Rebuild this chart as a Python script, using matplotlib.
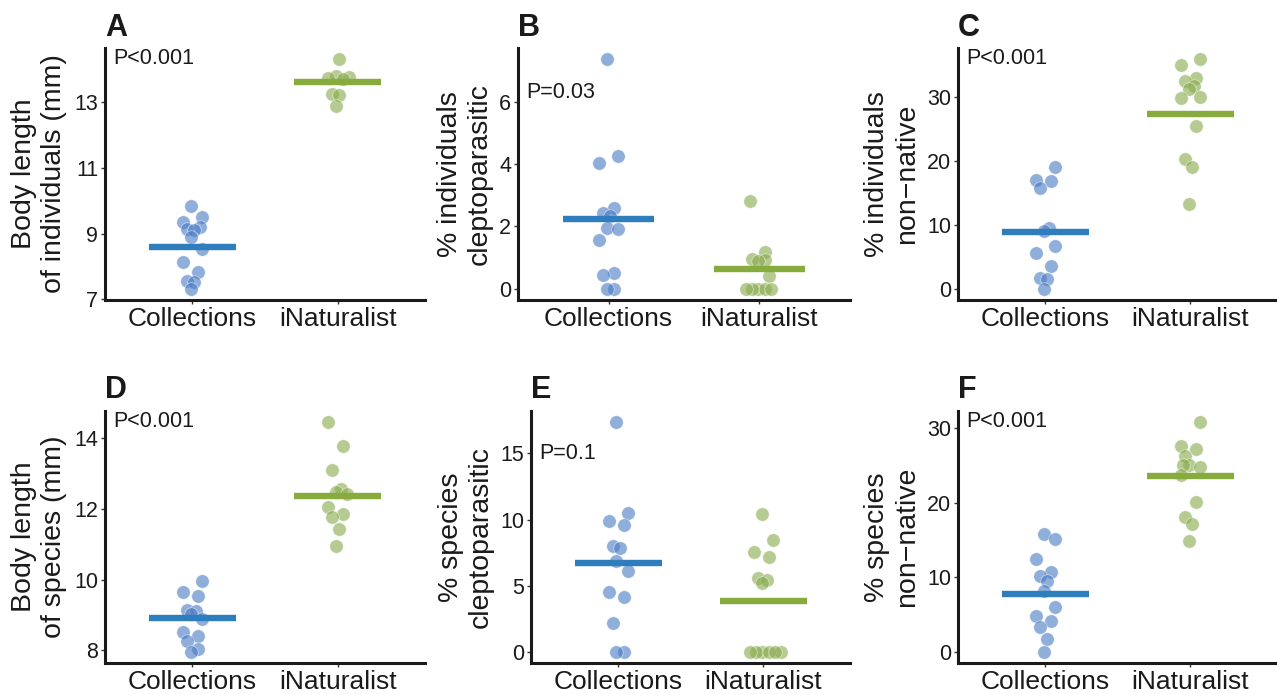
import numpy as np
import matplotlib
matplotlib.use("Agg")
import matplotlib.pyplot as plt

plt.rcParams['font.family'] = ['Liberation Sans', 'DejaVu Sans']

groups = ["Collections", "iNaturalist"]

# values, one list per panel and group
a_coll = [9.83, 9.50, 9.37, 9.20, 9.13, 9.10, 8.89, 8.52, 8.13, 7.82, 7.55, 7.52, 7.33]
a_inat = [14.31, 13.82, 13.78, 13.75, 13.70, 13.25, 13.22, 12.88]
b_coll = [7.37, 4.28, 4.04, 2.59, 2.43, 2.32, 1.95, 1.92, 1.55, 0.50, 0.44, 0.0, 0.0]
b_inat = [2.81, 1.19, 0.95, 0.92, 0.88, 0.41, 0.0, 0.0, 0.0, 0.0, 0.0]
c_coll = [19.1, 17.0, 16.8, 15.7, 9.5, 9.0, 6.6, 5.6, 3.5, 1.7, 1.5, 0.0]
c_inat = [35.9, 35.1, 33.0, 32.5, 31.8, 31.3, 30.0, 29.8, 25.5, 20.3, 19.1, 13.3]
d_coll = [9.97, 9.64, 9.55, 9.15, 9.11, 9.03, 8.89, 8.52, 8.42, 8.28, 8.03, 7.97]
d_inat = [14.43, 13.77, 13.09, 12.55, 12.46, 12.41, 12.04, 11.85, 11.75, 11.43, 10.96]
e_coll = [17.35, 10.49, 9.86, 9.61, 8.02, 7.84, 6.88, 6.08, 4.49, 4.11, 2.14, 0.0, 0.0]
e_inat = [10.41, 8.45, 7.51, 7.19, 5.57, 5.42, 5.17, 0.0, 0.0, 0.0, 0.0, 0.0, 0.0]
f_coll = [15.8, 15.1, 12.4, 10.7, 10.2, 9.5, 8.2, 5.95, 4.84, 4.08, 3.36, 1.7, 0.0]
f_inat = [30.8, 27.7, 27.2, 26.3, 25.1, 25.1, 24.8, 23.8, 20.1, 18.05, 17.2, 14.8]

# horizontal summary bars
a_mean = [8.59, 13.63]
b_mean = [2.25, 0.63]
c_mean = [8.8, 27.4]
d_mean = [8.92, 12.37]
e_mean = [6.71, 3.83]
f_mean = [7.75, 23.6]

letters = ["A", "B", "C", "D", "E", "F"]
ylabels = ["Body length\nof individuals (mm)", "% individuals\ncleptoparasitic",
           "% individuals\nnon\u2212native", "Body length\nof species (mm)",
           "% species\ncleptoparasitic", "% species\nnon\u2212native"]
ptexts = ["P<0.001", "P=0.03", "P<0.001", "P<0.001", "P=0.1", "P<0.001"]
yticks = [[7, 9, 11, 13], [0, 2, 4, 6], [0, 10, 20, 30],
          [8, 10, 12, 14], [0, 5, 10, 15], [0, 10, 20, 30]]

panels = [(a_coll, a_inat, a_mean), (b_coll, b_inat, b_mean), (c_coll, c_inat, c_mean),
          (d_coll, d_inat, d_mean), (e_coll, e_inat, e_mean), (f_coll, f_inat, f_mean)]

W, H = 1277, 694
# axes boxes in pixels: left, top, right, bottom
boxes = [(105, 48, 425, 300), (518, 48, 850, 300), (958, 48, 1277, 300),
         (105, 411, 425, 663), (531, 411, 850, 663), (958, 411, 1277, 663)]
ptext_top = [0.0, 0.134, 0.0, 0.0, 0.126, 0.0]
ylab_x = [-0.206, -0.16, -0.207, -0.206, -0.204, -0.207]

point_cols = ["#4a7cc4", "#88ab4e"]
line_cols = ["#2e7ebe", "#87ab3d"]
txt = "#1a1a1a"
diam = 13.5  # marker diameter in px


def swarm(ax, x0, vals):
    # jitter-like spread: alternate sides, nudge apart only heavy overlaps
    vals = np.asarray(vals, float)
    order = np.argsort(vals)
    placed = []
    xs = np.zeros(len(vals))
    for k, i in enumerate(order):
        xp, yp = ax.transData.transform((x0, vals[i]))
        sign = 1 if k % 2 else -1
        start = 1.5 + 4 * ((k // 2) % 3)
        done = False
        for step in range(40):
            for s in (sign, -sign):
                off = s * (start + 2 * step)
                ok = all(np.hypot(xp + off - px, yp - py) >= 0.42 * diam for px, py in placed)
                if ok:
                    placed.append((xp + off, yp))
                    xs[i] = ax.transData.inverted().transform((xp + off, yp))[0]
                    done = True
                    break
            if done:
                break
    return xs


fig = plt.figure(figsize=(W / 100, H / 100), dpi=100)

for n, (coll, inat, means) in enumerate(panels):
    l, t, r, b = boxes[n]
    ax = fig.add_axes([l / W, 1 - b / H, (r - l) / W, (b - t) / H])
    allv = coll + inat
    lo, hi = min(allv), max(allv)
    pad = 0.05 * (hi - lo)
    ax.set_xlim(0.4, 2.6)
    ax.set_ylim(lo - pad, hi + pad)

    for g, vals in enumerate([coll, inat]):
        xs = swarm(ax, g + 1, vals)
        ax.scatter(xs, vals, s=(diam * 0.72) ** 2, color=point_cols[g], alpha=0.62,
                   edgecolors="white", linewidths=0.5, zorder=3)
        ax.hlines(means[g], g + 1 - 0.3, g + 1 + 0.3, color=line_cols[g], lw=4.6, zorder=4)

    ax.set_xticks([1, 2])
    ax.set_xticklabels(groups, fontsize=19, color=txt)
    ax.set_yticks(yticks[n])
    ax.set_yticklabels([str(v) for v in yticks[n]], fontsize=15.5, color=txt)
    ax.tick_params(axis="both", length=3, width=1, color="#333333", pad=2)

    for side in ["top", "right"]:
        ax.spines[side].set_visible(False)
    for side in ["left", "bottom"]:
        ax.spines[side].set_linewidth(2.2)
        ax.spines[side].set_color("#1a1a1a")

    ax.set_ylabel(ylabels[n], fontsize=20.5, color=txt, va="center", linespacing=1.2)
    ax.yaxis.set_label_coords(ylab_x[n], 0.5)

    ax.text(0.025, 1 - ptext_top[n], ptexts[n], transform=ax.transAxes,
            ha="left", va="top", fontsize=15.5, color=txt)
    ax.annotate(letters[n], xy=(0, 1), xycoords="axes fraction", xytext=(0, 9),
                textcoords="offset points", ha="left", va="baseline",
                fontsize=22, fontweight="bold", color=txt)

fig.savefig("out.png", dpi=100)
